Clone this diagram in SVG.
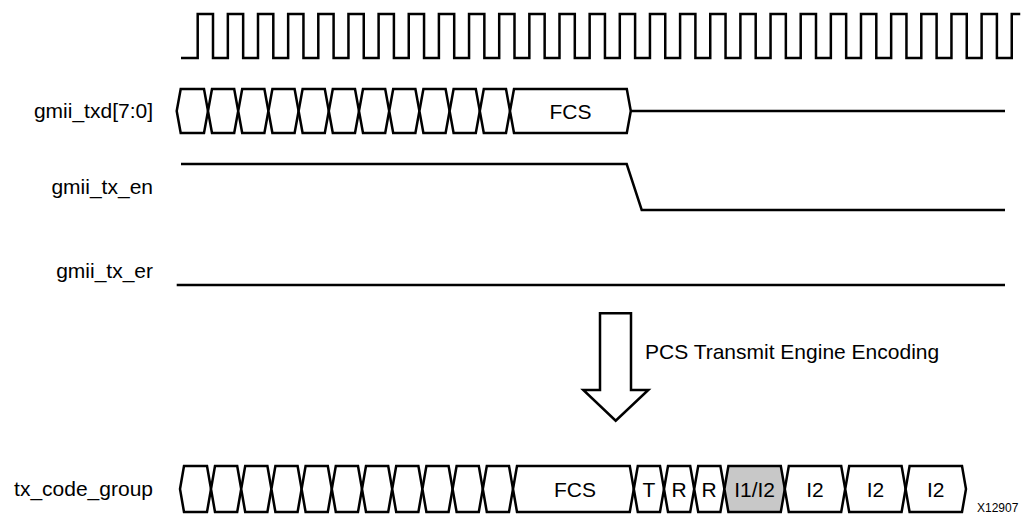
<svg xmlns="http://www.w3.org/2000/svg" width="1026" height="521" viewBox="0 0 1026 521">
<style>
.w{fill:none;stroke:#000;stroke-width:2.5;stroke-linejoin:miter}
.c{fill:#fff;stroke:#000;stroke-width:2.5;stroke-linejoin:miter}
.g{fill:#c8c8c8;stroke:#000;stroke-width:2.5;stroke-linejoin:miter}
text{font-family:"Liberation Sans",Arial,Helvetica,sans-serif;font-size:21px;fill:#000}
.l{text-anchor:end}
.m{text-anchor:middle}
.s{font-size:12px}
</style>
<rect width="1026" height="521" fill="#fff"/>
<g id="clk">
<path class="w" d="M181,58 H197.7 v-44 h15.3 v44 h14.85 v-44 h15.3 v44 h14.85 v-44 h15.3 v44 h14.85 v-44 h15.3 v44 h14.85 v-44 h15.3 v44 h14.85 v-44 h15.3 v44 h14.85 v-44 h15.3 v44 h14.85 v-44 h15.3 v44 h14.85 v-44 h15.3 v44 h14.85 v-44 h15.3 v44 h14.85 v-44 h15.3 v44 h14.85 v-44 h15.3 v44 h14.85 v-44 h15.3 v44 h14.85 v-44 h15.3 v44 h14.85 v-44 h15.3 v44 h14.85 v-44 h15.3 v44 h14.85 v-44 h15.3 v44 h14.85 v-44 h15.3 v44 h14.85 v-44 h15.3 v44 h14.85 v-44 h15.3 v44 h14.85 v-44 h15.3 v44 h14.85 v-44 h15.3 v44 h14.85 v-44 h15.3 v44 h14.85 v-44 h15.3 v44 h14.85 v-44 h15.3 v44 h14.85 v-44 h15.3 v44 h14.85 v-44 h15.3 v44 h14.85 v-44 h8.5"/>
</g>
<g id="gmii_txd">
<text class="l" x="153" y="118">gmii_txd[7:0]</text>
<path class="c" d="M176.7,111 L180.7,89 H204 L208,111 L204,133 H180.7 Z"/>
<path class="c" d="M208,111 L212,89 H234.2 L238.2,111 L234.2,133 H212 Z"/>
<path class="c" d="M238.2,111 L242.2,89 H264.4 L268.4,111 L264.4,133 H242.2 Z"/>
<path class="c" d="M268.4,111 L272.4,89 H294.6 L298.6,111 L294.6,133 H272.4 Z"/>
<path class="c" d="M298.6,111 L302.6,89 H324.8 L328.8,111 L324.8,133 H302.6 Z"/>
<path class="c" d="M328.8,111 L332.8,89 H355 L359,111 L355,133 H332.8 Z"/>
<path class="c" d="M359,111 L363,89 H385.2 L389.2,111 L385.2,133 H363 Z"/>
<path class="c" d="M389.2,111 L393.2,89 H415.4 L419.4,111 L415.4,133 H393.2 Z"/>
<path class="c" d="M419.4,111 L423.4,89 H445.6 L449.6,111 L445.6,133 H423.4 Z"/>
<path class="c" d="M449.6,111 L453.6,89 H475.8 L479.8,111 L475.8,133 H453.6 Z"/>
<path class="c" d="M479.8,111 L483.8,89 H506 L510,111 L506,133 H483.8 Z"/>
<path class="c" d="M510,111 L514,89 H626.8 L630.8,111 L626.8,133 H514 Z"/>
<text class="m" x="570.4" y="118.5">FCS</text>
<path class="w" d="M630.8,111 H1005"/>
</g>
<g id="gmii_tx_en">
<text class="l" x="153" y="194">gmii_tx_en</text>
<path class="w" d="M181,164 H626.7 L641.7,210 H1005"/>
</g>
<g id="gmii_tx_er">
<text class="l" x="153" y="278">gmii_tx_er</text>
<path class="w" d="M176.7,285 H1005"/>
</g>
<g id="connectors">
<path class="c" d="M600,313.3 H631 V390 H648.3 L615.7,420.7 L583.3,390 H600 Z"/>
<text x="645" y="359">PCS Transmit Engine Encoding</text>
</g>
<g id="tx_code_group">
<text class="l" x="153" y="496">tx_code_group</text>
<path class="c" d="M180,489 L184,466 H207 L211,489 L207,512 H184 Z"/>
<path class="c" d="M211,489 L215,466 H237.2 L241.2,489 L237.2,512 H215 Z"/>
<path class="c" d="M241.2,489 L245.2,466 H267.4 L271.4,489 L267.4,512 H245.2 Z"/>
<path class="c" d="M271.4,489 L275.4,466 H297.6 L301.6,489 L297.6,512 H275.4 Z"/>
<path class="c" d="M301.6,489 L305.6,466 H327.8 L331.8,489 L327.8,512 H305.6 Z"/>
<path class="c" d="M331.8,489 L335.8,466 H358 L362,489 L358,512 H335.8 Z"/>
<path class="c" d="M362,489 L366,466 H388.2 L392.2,489 L388.2,512 H366 Z"/>
<path class="c" d="M392.2,489 L396.2,466 H418.4 L422.4,489 L418.4,512 H396.2 Z"/>
<path class="c" d="M422.4,489 L426.4,466 H448.6 L452.6,489 L448.6,512 H426.4 Z"/>
<path class="c" d="M452.6,489 L456.6,466 H478.8 L482.8,489 L478.8,512 H456.6 Z"/>
<path class="c" d="M482.8,489 L486.8,466 H509 L513,489 L509,512 H486.8 Z"/>
<path class="c" d="M513,489 L517,466 H629.8 L633.8,489 L629.8,512 H517 Z"/>
<text class="m" x="575" y="496.5">FCS</text>
<path class="c" d="M633.8,489 L637.8,466 H660 L664,489 L660,512 H637.8 Z"/>
<text class="m" x="649" y="496.5">T</text>
<path class="c" d="M664,489 L668,466 H690.2 L694.2,489 L690.2,512 H668 Z"/>
<text class="m" x="679" y="496.5">R</text>
<path class="c" d="M694.2,489 L698.2,466 H720.4 L724.4,489 L720.4,512 H698.2 Z"/>
<text class="m" x="709" y="496.5">R</text>
<path class="g" d="M724.4,489 L728.4,466 H780.8 L784.8,489 L780.8,512 H728.4 Z"/>
<text class="m" x="754.6" y="496.5">I1/I2</text>
<path class="c" d="M784.8,489 L788.8,466 H841.2 L845.2,489 L841.2,512 H788.8 Z"/>
<text class="m" x="815" y="496.5">I2</text>
<path class="c" d="M845.2,489 L849.2,466 H901.6 L905.6,489 L901.6,512 H849.2 Z"/>
<text class="m" x="875.4" y="496.5">I2</text>
<path class="c" d="M905.6,489 L909.6,466 H962 L966,489 L962,512 H909.6 Z"/>
<text class="m" x="935.8" y="496.5">I2</text>
</g>
<text class="s" x="977" y="512">X12907</text>
</svg>
